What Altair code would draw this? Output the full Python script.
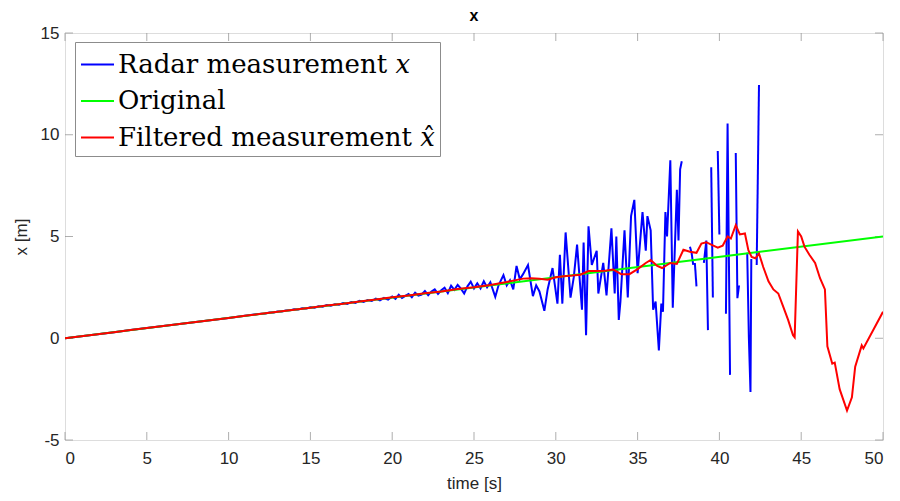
import altair as alt
import pandas as pd

# ---------------- data ----------------
SERIES = ["Radar measurement \U0001D465", "Original", "Filtered measurement \U0001D465\u0302"]
COLORS = ["#0000FF", "#00FF00", "#FF0000"]

# Radar measurement (None = gap in the measurement)
blue_t = [0, 1, 2, 3, 4, 5, 6, 7, 8, 9, 10, 11,
          12.0, 12.25, 12.5, 12.75, 13.0, 13.25, 13.5, 13.75, 14.0, 14.25, 14.5, 14.75,
          15.0, 15.25, 15.5, 15.75, 16.0, 16.25, 16.5, 16.75, 17.0, 17.25, 17.5, 17.75,
          18.0, 18.25, 18.5, 18.75, 19.0, 19.25, 19.5, 19.75,
          20.0, 20.2, 20.4, 20.6, 20.8, 21.0, 21.2, 21.4, 21.6, 21.8, 22.0, 22.2, 22.4,
          22.6, 22.8, 23.0, 23.2, 23.4, 23.6, 23.8, 24.0, 24.2, 24.4, 24.6, 24.8, 25.0,
          25.2, 25.4, 25.6, 25.8, 26.0, 26.3, 26.5, 26.8, 27.0, 27.2, 27.4, 27.6, 27.8,
          28.0, 28.3, 28.6, 28.8, 29.0, 29.3, 29.5, 29.8, 30.1, 30.25, 30.4, 30.6, 30.9,
          31.1, 31.3, 31.6, 31.7, 31.85, 32.0, 32.2, 32.5, 32.6, 32.9, 33.1, 33.4, 33.6,
          33.7, 33.85, 33.95, 34.2, 34.4, 34.6, 34.8, 35.0, 35.3, 35.5, 35.6, 35.8, 35.95,
          36.1, 36.3, 36.45, 36.55, 36.7, 36.8, 37.0, 37.15, 37.4, 37.5, 37.6, 37.7,
          37.9,
          38.2, 38.3, 38.4,
          38.45,
          38.5, 38.6,
          38.8,
          39.05, 39.2, 39.3,
          39.4,
          39.5, 39.6,
          39.8,
          39.9, 40.0,
          40.3,
          40.4, 40.5, 40.65,
          40.9,
          41.0, 41.1, 41.2,
          41.5,
          41.7, 41.8, 41.9, 41.95,
          42.1,
          42.28, 42.42]
blue_v = [0.0, 0.1, 0.2, 0.3, 0.4, 0.5, 0.6, 0.7, 0.8, 0.9, 1.0, 1.1,
          1.21, 1.22, 1.26, 1.27, 1.31, 1.32, 1.36, 1.37, 1.42, 1.41, 1.47, 1.46,
          1.52, 1.50, 1.57, 1.55, 1.63, 1.60, 1.67, 1.65, 1.73, 1.69, 1.78, 1.74,
          1.84, 1.78, 1.88, 1.83, 1.95, 1.86, 1.98, 1.90,
          2.05, 1.93, 2.14, 1.98, 2.08, 2.17, 2.02, 2.24, 2.10, 2.15, 2.32, 2.12, 2.30,
          2.40, 2.18, 2.36, 2.48, 2.22, 2.58, 2.38, 2.62, 2.44, 2.20, 2.55, 2.78, 2.45,
          2.70, 2.45, 2.80, 2.50, 2.75, 2.03, 2.60, 3.10, 2.60, 2.85, 2.40, 3.55, 2.90,
          3.15, 3.60, 2.07, 2.60, 2.30, 1.35, 2.40, 3.45, 1.70, 4.10, 1.70, 5.20, 2.00,
          3.00, 4.60, 1.40, 4.70, 0.15, 5.50, 3.60, 4.30, 2.20, 3.70, 2.10, 5.40, 2.20,
          5.00, 0.90, 1.80, 5.30, 2.00, 6.00, 6.80, 3.20, 6.20, 4.30, 6.00, 5.30, 1.40,
          1.80, -0.60, 1.70, 1.30, 6.20, 5.00, 8.75, 1.50, 7.30, 4.80, 8.30, 8.70,
          None,
          4.50, 4.20, 3.60,
          None,
          3.70, 2.55,
          None,
          3.70, 4.80, 0.40,
          None,
          8.40, 2.00,
          None,
          9.20, 5.10,
          None,
          1.20, 10.55, -1.80,
          None,
          9.10, 1.97, 2.60,
          None,
          4.20, 0.06, -2.64, 3.90,
          None,
          3.60, 12.45]

# Original trajectory
orig_t = [0, 50]
orig_v = [0, 5]

# Filtered measurement
filt_t = [0, 1, 2, 3, 4, 5, 6, 7, 8, 9, 10, 11, 12, 13, 14, 15, 16, 17, 18, 19, 20,
          21, 22, 23, 24, 25, 26, 27, 28, 28.5, 29, 29.5, 30, 30.5, 31, 31.5, 32, 32.5,
          33, 33.5, 34, 34.5, 35, 35.5, 35.8, 36.2, 36.5, 36.8, 37.0, 37.4, 37.8, 38.2,
          38.6, 38.9, 39.2, 39.5, 39.9, 40.2, 40.5, 40.7, 41.0, 41.25, 41.56, 41.77,
          41.97, 42.2, 42.42, 42.68, 43.0, 43.3, 43.6, 43.9, 44.2, 44.5, 44.6, 44.8,
          45.0, 45.2, 45.5, 45.85, 46.15, 46.45, 46.6, 46.9, 47.05, 47.35, 47.8, 48.1,
          48.3, 48.7, 48.8, 50.0]
filt_v = [0.0, 0.1, 0.2, 0.3, 0.4, 0.5, 0.6, 0.7, 0.8, 0.9, 1.0, 1.1, 1.2, 1.3, 1.4,
          1.50, 1.61, 1.70, 1.81, 1.90, 2.01, 2.10, 2.21, 2.30, 2.42, 2.51, 2.62, 2.76,
          2.93, 2.95, 2.92, 2.88, 3.00, 3.05, 3.08, 3.12, 3.30, 3.30, 3.32, 3.38, 3.15,
          3.15, 3.40, 3.70, 3.85, 3.55, 3.45, 3.60, 3.70, 3.65, 4.35, 4.25, 4.20, 4.65,
          4.72, 4.60, 4.45, 4.55, 5.00, 4.90, 5.56, 5.10, 5.15, 4.33, 4.00, 3.93, 4.16,
          3.50, 2.80, 2.40, 2.20, 1.55, 0.90, 0.15, 0.05, 5.25, 5.00, 4.50, 4.10, 3.70,
          2.95, 2.40, -0.40, -1.25, -1.20, -2.50, -3.55, -2.90, -1.40, -0.35, -0.50, 1.30]

x_ticks = [0, 5, 10, 15, 20, 25, 30, 35, 40, 45, 50]
y_ticks = [-5, 0, 5, 10, 15]

# ---------------- frames ----------------
rows, seg = [], 0
for t, v in zip(blue_t, blue_v):
    if v is None:
        seg += 1
        continue
    rows.append({"t": t, "v": v, "seg": seg, "series": SERIES[0]})
blue_df = pd.DataFrame(rows)
orig_df = pd.DataFrame({"t": orig_t, "v": orig_v, "series": SERIES[1]})
filt_df = pd.DataFrame({"t": filt_t, "v": filt_v, "series": SERIES[2]})
xt_df = pd.DataFrame({"t": x_ticks})
yt_df = pd.DataFrame({"v": y_ticks})

W, H = 818, 407
TL = 8
AX_FONT = "Liberation Sans Narrow, Liberation Sans, Arial"
HYPHEN = "datum.value < 0 ? '-' + abs(datum.value) : datum.label"

xscale = alt.Scale(domain=[0, 50], nice=False, zero=False)
yscale = alt.Scale(domain=[-5, 15], nice=False, zero=False)

color = alt.Color(
    "series:N",
    scale=alt.Scale(domain=SERIES, range=COLORS),
    legend=alt.Legend(
        orient="none", legendX=10, legendY=9, title=None,
        symbolType="stroke", symbolSize=1089, symbolStrokeWidth=2,
        labelFont="DejaVu Serif", labelFontSize=26, labelColor="black",
        labelOffset=3, labelLimit=500,
        strokeColor="#8c8c8c", fillColor="white", padding=5, rowPadding=5.5,
        symbolOffset=0,
    ),
)

xax = alt.Axis(values=x_ticks, title="time [s]", domain=False, ticks=False, grid=False,
               labelFont=AX_FONT, labelFontSize=17, labelColor="#262626",
               labelPadding=10, titleFont=AX_FONT, titleFontSize=17,
               titleColor="#262626", titleFontWeight="normal", titlePadding=9)
yax = alt.Axis(values=y_ticks, title="x [m]", domain=False, ticks=False, grid=False,
               labelFont=AX_FONT, labelFontSize=17, labelColor="#262626",
               labelPadding=6, labelExpr=HYPHEN, titleFont=AX_FONT, titleFontSize=17,
               titleColor="#262626", titleFontWeight="normal", titlePadding=10)

blue = alt.Chart(blue_df).mark_line(strokeWidth=2, clip=True).encode(
    x=alt.X("t:Q", scale=xscale, axis=xax),
    y=alt.Y("v:Q", scale=yscale, axis=yax),
    detail="seg:N",
    color=color,
)
green = alt.Chart(orig_df).mark_line(strokeWidth=2, clip=True).encode(
    x=alt.X("t:Q", scale=xscale),
    y=alt.Y("v:Q", scale=yscale),
    color=color,
)
red = alt.Chart(filt_df).mark_line(strokeWidth=2, clip=True).encode(
    x=alt.X("t:Q", scale=xscale),
    y=alt.Y("v:Q", scale=yscale),
    color=color,
)

tick_style = dict(color="#8c8c8c", thickness=1, size=TL)
xt_bottom = alt.Chart(xt_df).mark_tick(**tick_style, orient="vertical").encode(
    x=alt.X("t:Q", scale=xscale), y=alt.value(H - TL / 2))
xt_top = alt.Chart(xt_df).mark_tick(**tick_style, orient="vertical").encode(
    x=alt.X("t:Q", scale=xscale), y=alt.value(TL / 2))
yt_left = alt.Chart(yt_df).mark_tick(**tick_style, orient="horizontal").encode(
    y=alt.Y("v:Q", scale=yscale), x=alt.value(TL / 2))
yt_right = alt.Chart(yt_df).mark_tick(**tick_style, orient="horizontal").encode(
    y=alt.Y("v:Q", scale=yscale), x=alt.value(W - TL / 2))

chart = alt.layer(xt_bottom, xt_top, yt_left, yt_right, blue, green, red).properties(
    width=W, height=H,
    title=alt.Title("x", font="Liberation Sans, Arial", fontSize=16, fontWeight="bold",
                    color="black", offset=0),
    autosize=alt.AutoSizeParams(type="none"),
    padding={"left": 57, "top": 25, "right": 9, "bottom": 53},
).configure_view(stroke="#8c8c8c", strokeWidth=1).configure(background="white")

chart.save("out.html", embed_options={"renderer": "svg", "actions": False})
